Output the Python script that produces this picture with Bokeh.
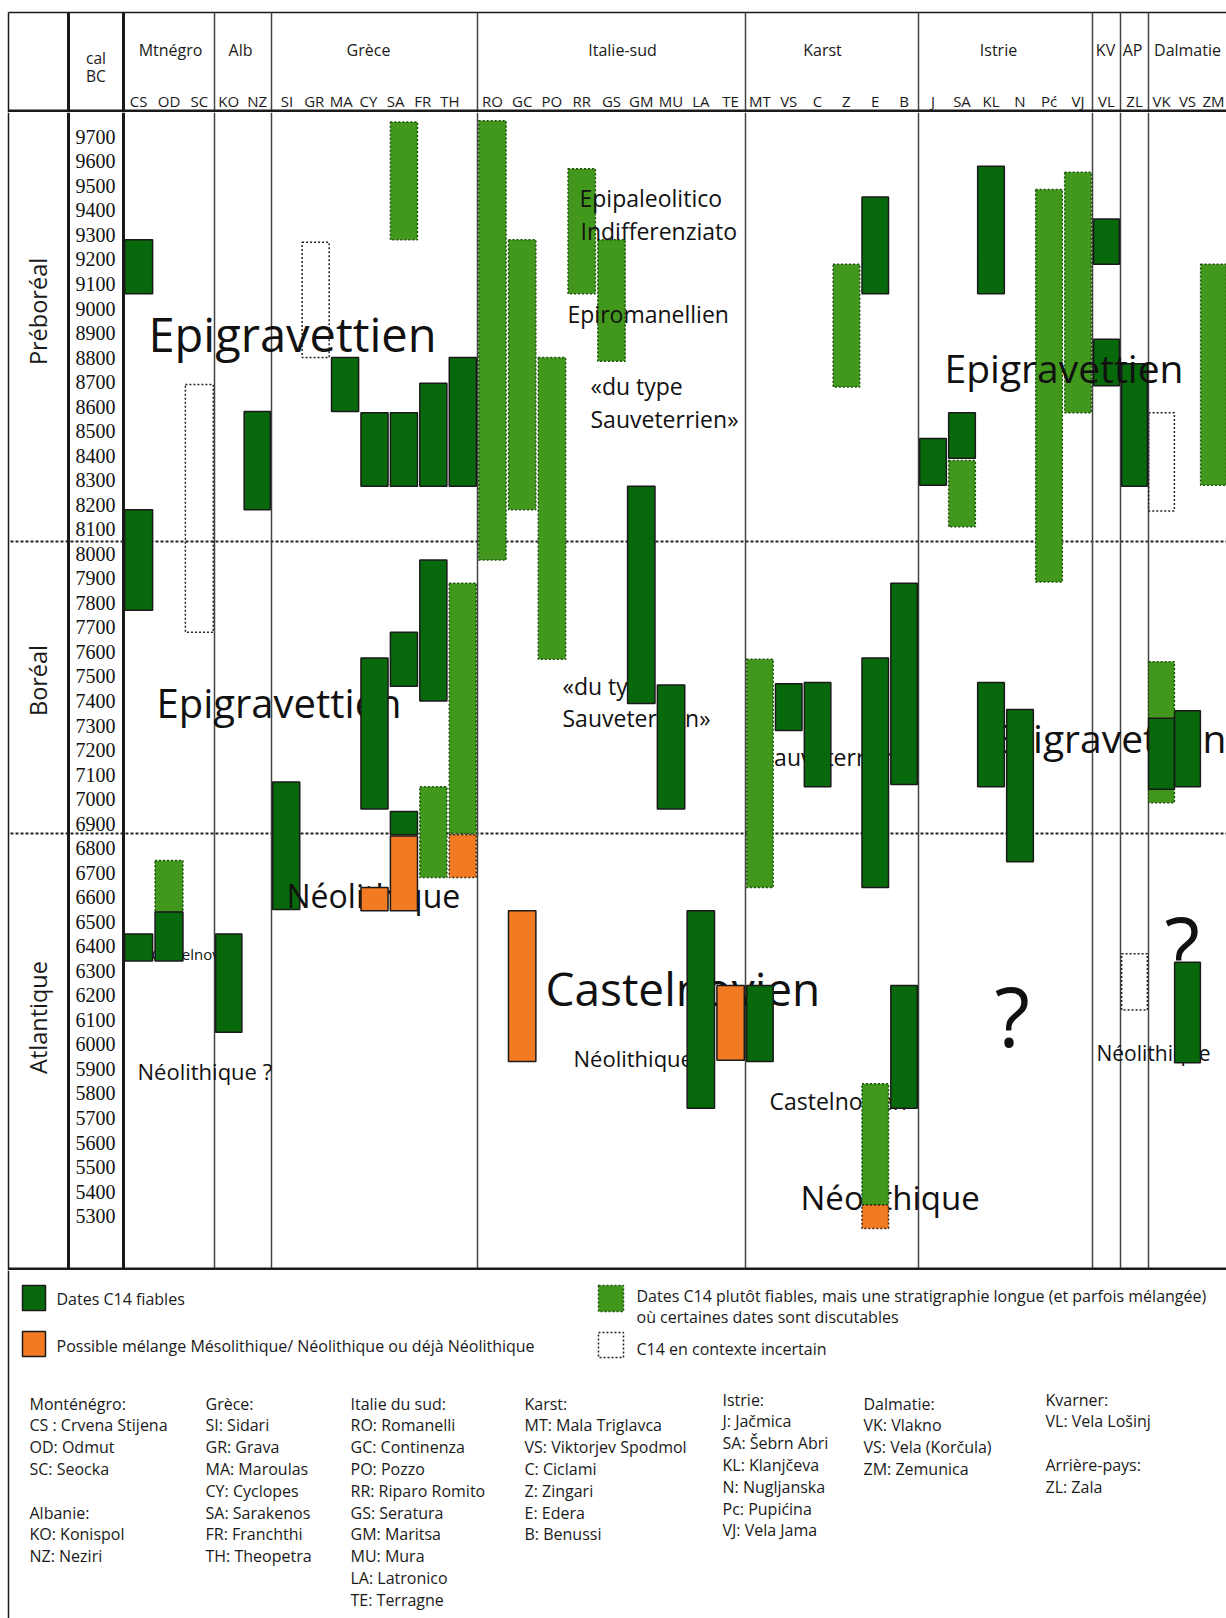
import math
from bokeh.plotting import figure
from bokeh.layouts import column
from bokeh.models import Range1d, LinearAxis, FixedTicker, ColumnDataSource
from bokeh.core.properties import value
from bokeh.embed import file_html
from bokeh.resources import INLINE

# ---------------------------------------------------------------- data
GROUPS = ["Mtnégro", "Alb", "Grèce", "Italie-sud", "Karst", "Istrie", "KV", "AP", "Dalmatie"]
SITES = [["CS", "OD", "SC"], ["KO", "NZ"], ["SI", "GR", "MA", "CY", "SA", "FR", "TH"],
         ["RO", "GC", "PO", "RR", "GS", "GM", "MU", "LA", "TE"], ["MT", "VS", "C", "Z", "E", "B"],
         ["J", "SA", "KL", "N", "Pć", "VJ"], ["VL"], ["ZL"], ["VK", "VS", "ZM"]]

YEAR_TICKS = [9700, 9600, 9500, 9400, 9300, 9200, 9100, 9000, 8900, 8800, 8700, 8600,
              8500, 8400, 8300, 8200, 8100, 8000, 7900, 7800, 7700, 7600, 7500, 7400,
              7300, 7200, 7100, 7000, 6900, 6800, 6700, 6600, 6500, 6400, 6300, 6200,
              6100, 6000, 5900, 5800, 5700, 5600, 5500, 5400, 5300]

PERIODS = ["Préboréal", "Boréal", "Atlantique"]
PERIOD_LIMITS = [8050, 6860]          # cal BC

# Dates C14 fiables
RELIABLE_SITE = ["Mtnégro:CS", "Mtnégro:CS", "Mtnégro:CS", "Mtnégro:OD", "Alb:NZ", "Alb:KO",
                 "Grèce:SI", "Grèce:MA", "Grèce:CY", "Grèce:CY", "Grèce:SA", "Grèce:SA", "Grèce:SA",
                 "Grèce:FR", "Grèce:FR", "Grèce:TH",
                 "Italie-sud:GM", "Italie-sud:MU", "Italie-sud:LA",
                 "Karst:MT", "Karst:VS", "Karst:C", "Karst:E", "Karst:E", "Karst:B", "Karst:B",
                 "Istrie:J", "Istrie:SA", "Istrie:KL", "Istrie:KL", "Istrie:N",
                 "KV:VL", "KV:VL", "AP:ZL", "Dalmatie:VK", "Dalmatie:VS", "Dalmatie:VS"]
RELIABLE_OLD = [9280, 8180, 6450, 6540, 8580, 6450,
                7070, 8800, 8575, 7575, 8575, 7680, 6950,
                8695, 7975, 8800,
                8275, 7465, 6545,
                6240, 7470, 7475, 9455, 7575, 7880, 6240,
                8470, 8575, 9580, 7475, 7365,
                9365, 8875, 8775, 7330, 7360, 6335]
RELIABLE_YOUNG = [9060, 7770, 6340, 6340, 8180, 6050,
                  6550, 8580, 8275, 6960, 8275, 7460, 6855,
                  8275, 7400, 8275,
                  7390, 6960, 5740,
                  5930, 7280, 7050, 9060, 6640, 7060, 5740,
                  8280, 8390, 9060, 7050, 6745,
                  9180, 8685, 8275, 7040, 7050, 5925]

# Dates C14 plutot fiables, stratigraphie longue
LONG_SITE = ["Mtnégro:OD", "Grèce:SA", "Grèce:FR", "Grèce:TH",
             "Italie-sud:RO", "Italie-sud:GC", "Italie-sud:PO", "Italie-sud:RR", "Italie-sud:GS",
             "Karst:MT", "Karst:Z", "Karst:E", "Istrie:SA", "Istrie:Pć", "Istrie:VJ",
             "Dalmatie:VK", "Dalmatie:ZM"]
LONG_OLD = [6750, 9760, 7050, 7880, 9765, 9280, 8800, 9570, 9280,
            7570, 9180, 5840, 8380, 9485, 9555, 7560, 9180]
LONG_YOUNG = [6540, 9280, 6680, 6860, 7975, 8180, 7570, 9060, 8785,
              6640, 8680, 5345, 8110, 7885, 8575, 6985, 8280]

# Possible melange Mesolithique / Neolithique
MIXED_SITE = ["Grèce:CY", "Grèce:SA", "Grèce:TH", "Italie-sud:GC", "Italie-sud:TE", "Karst:E"]
MIXED_OLD = [6640, 6850, 6855, 6545, 6240, 5345]
MIXED_YOUNG = [6545, 6545, 6680, 5930, 5935, 5250]
MIXED_IN_LONG_SEQUENCE = [False, False, True, False, False, True]

# C14 en contexte incertain
UNCERTAIN_SITE = ["Grèce:GR", "Mtnégro:SC", "Dalmatie:VK", "AP:ZL"]
UNCERTAIN_OLD = [9270, 8690, 8575, 6370]
UNCERTAIN_YOUNG = [8800, 7680, 8175, 6140]

LEGEND_TEXTS = ["Dates C14 fiables",
                "Possible mélange Mésolithique/ Néolithique ou déjà Néolithique",
                "Dates C14 plutôt fiables, mais une stratigraphie longue (et parfois mélangée)",
                "où certaines dates sont discutables",
                "C14 en contexte incertain"]

GLOSSARY = [
    ["Monténégro:", "CS : Crvena Stijena", "OD: Odmut", "SC: Seocka", "", "Albanie:", "KO: Konispol", "NZ: Neziri"],
    ["Grèce:", "SI: Sidari", "GR: Grava", "MA: Maroulas", "CY: Cyclopes", "SA: Sarakenos", "FR: Franchthi", "TH: Theopetra"],
    ["Italie du sud:", "RO: Romanelli", "GC: Continenza", "PO: Pozzo", "RR: Riparo Romito", "GS: Seratura",
     "GM: Maritsa", "MU: Mura", "LA: Latronico", "TE: Terragne"],
    ["Karst:", "MT: Mala Triglavca", "VS: Viktorjev Spodmol", "C: Ciclami", "Z: Zingari", "E: Edera", "B: Benussi"],
    ["Istrie:", "J: Jačmica", "SA: Šebrn Abri", "KL: Klanjčeva", "N: Nugljanska", "Pc: Pupićina", "VJ: Vela Jama"],
    ["Dalmatie:", "VK: Vlakno", "VS: Vela (Korčula)", "ZM: Zemunica"],
    ["Kvarner:", "VL: Vela Lošinj", "", "Arrière-pays:", "ZL: Zala"],
]

# ---------------------------------------------------------------- layout / style
DARK = "#08690c"
LIGHT = "#41981c"
ORANGE = "#f27a22"
INK = "#1a1a1a"
FONT = value("Open Sans")

PAGE_W = 1226
BORDER_X, BORDER_Y = 8, 12
GROUP_EDGES = [123, 214, 271, 477, 745, 918, 1092, 1120, 1148, 1226]
GROUP_LABEL_X = [170, 240, 368, 622, 822, 998, 1105, 1132, 1187]
LABEL_SPAN = {"Grèce": (273, 463)}      # site codes set tighter than the columns
CALBC_X, PERIOD_X = 68, 37

# linear mapping page-y <-> year in the chart panel
Y0_PX, PX_PER_YEAR = 136.3, 0.2453


def yr(py):
    return 9700 - (py - Y0_PX) / PX_PER_YEAR


site_x, site_w = {}, {}
for gi, (g, sites) in enumerate(zip(GROUPS, SITES)):
    l, r = GROUP_EDGES[gi], GROUP_EDGES[gi + 1]
    w = (r - l) / len(sites)
    for si, s in enumerate(sites):
        site_x[f"{g}:{s}"] = l + (si + 0.5) * w
        site_w[f"{g}:{s}"] = w


def bars(keys, old, young):
    return ColumnDataSource(dict(
        left=[site_x[k] - 0.46 * max(site_w[k], 28) for k in keys],
        right=[site_x[k] + 0.46 * max(site_w[k], 28) for k in keys],
        top=list(old), bottom=list(young)))


def base_fig(height, yrange):
    f = figure(width=PAGE_W, height=height, x_range=Range1d(0, PAGE_W), y_range=yrange,
               output_backend="svg", toolbar_location=None, x_axis_location=None,
               y_axis_location=None, min_border=0, outline_line_color=None,
               background_fill_color="white", border_fill_color="white")
    f.grid.visible = False
    return f


div = GROUP_EDGES[1:-1]

# ---------------------------------------------------------------- header
HDR_BOT = 112
hdr = base_fig(HDR_BOT, Range1d(HDR_BOT, 0))
hdr.segment(x0=[BORDER_X], y0=[BORDER_Y], x1=[PAGE_W], y1=[BORDER_Y], line_color=INK, line_width=1.5)
hdr.segment(x0=[BORDER_X], y0=[BORDER_Y], x1=[BORDER_X], y1=[HDR_BOT], line_color=INK, line_width=1.5)
hdr.segment(x0=[CALBC_X, GROUP_EDGES[0]], y0=[BORDER_Y] * 2, x1=[CALBC_X, GROUP_EDGES[0]],
            y1=[HDR_BOT] * 2, line_color=INK, line_width=3)
hdr.segment(x0=div, y0=[BORDER_Y] * len(div), x1=div, y1=[HDR_BOT] * len(div),
            line_color="#444444", line_width=1.5)
hdr.segment(x0=[BORDER_X], y0=[110.5], x1=[PAGE_W], y1=[110.5], line_color=INK, line_width=3)

hdr.text(x=GROUP_LABEL_X, y=[49] * len(GROUPS), text=GROUPS, text_align="center", text_baseline="middle",
         text_font=FONT, text_font_size="16px", text_color=INK)
hdr.text(x=[(CALBC_X + GROUP_EDGES[0]) / 2] * 2, y=[57, 75], text=["cal", "BC"], text_align="center",
         text_baseline="middle", text_font=FONT, text_font_size="15.5px", text_color=INK)

sx, st = [], []
for g, sites in zip(GROUPS, SITES):
    if g in LABEL_SPAN:
        a, b = LABEL_SPAN[g]
        step = (b - a) / len(sites)
        xs_g = [a + (i + 0.5) * step for i in range(len(sites))]
    else:
        xs_g = [site_x[f"{g}:{s}"] for s in sites]
    sx += xs_g
    st += sites
hdr.text(x=sx, y=[100] * len(sx), text=st, text_align="center", text_baseline="middle",
         text_font=FONT, text_font_size="15px", text_color=INK)

# ---------------------------------------------------------------- main chart
MAIN_TOP, MAIN_BOT = 112, 1270
p = base_fig(MAIN_BOT - MAIN_TOP, Range1d(yr(MAIN_BOT), yr(MAIN_TOP)))
ytop, ybot = yr(MAIN_TOP), yr(MAIN_BOT)

# period boundaries
p.segment(x0=[BORDER_X + 2] * 2, y0=PERIOD_LIMITS, x1=[PAGE_W] * 2, y1=PERIOD_LIMITS,
          line_color="#222222", line_width=2, line_dash="3 2")
# column rules
p.segment(x0=[BORDER_X], y0=[ytop], x1=[BORDER_X], y1=[ybot], line_color=INK, line_width=1.5)
p.segment(x0=[CALBC_X, GROUP_EDGES[0]], y0=[ytop] * 2, x1=[CALBC_X, GROUP_EDGES[0]], y1=[ybot] * 2,
          line_color=INK, line_width=3)
p.segment(x0=div, y0=[ytop] * len(div), x1=div, y1=[ybot] * len(div), line_color="#444444", line_width=1.5)
p.segment(x0=[BORDER_X], y0=[yr(1268.5)], x1=[PAGE_W], y1=[yr(1268.5)], line_color=INK, line_width=3)

# period names
PERIOD_ANCHOR = [yr(311), yr(680), yr(1017)]
p.text(x=[PERIOD_X] * 3, y=PERIOD_ANCHOR, text=PERIODS, angle=math.pi / 2, text_align="center",
       text_baseline="middle", text_font=FONT, text_font_size="23.5px", text_color=INK)

# year axis inside the "cal BC" column
yax = LinearAxis(ticker=FixedTicker(ticks=YEAR_TICKS), fixed_location=117, axis_line_color=None,
                 major_tick_line_color=None, minor_tick_line_color=None, major_tick_in=0,
                 major_tick_out=0, major_label_standoff=2, major_label_text_font="Liberation Sans Narrow",
                 major_label_text_font_size="20px", major_label_text_color="#111111")
p.add_layout(yax, "left")

# cultural annotations: (text, left px, baseline px, size, layer)
# layer 0: under all bars, 1: over green bars but under orange ones, 2: over everything
ANNOT = [
    ("Epigravettien", 148, 333, 47, 0),
    ("Epipaleolitico", 579, 197, 23, 2),
    ("Indifferenziato", 580, 230, 23, 2),
    ("Epiromanellien", 567, 313, 23, 2),
    ("«du type", 590, 385, 23, 0),
    ("Sauveterrien»", 590, 418, 23, 0),
    ("Epigravettien", 944, 367, 39, 2),
    ("Epigravettien", 156, 702, 40, 0),
    ("«du type", 562, 685, 23, 0),
    ("Sauveterrien»", 562, 717, 23, 0),
    ("Sauveterrien", 761, 756, 23, 0),
    ("Epigravettien", 987, 737, 39, 0),
    ("Néolithique", 286, 895, 32, 1),
    ("Castelnovien", 151, 953, 15, 0),
    ("Néolithique ?", 137, 1070, 22, 0),
    ("Castelnovien", 545, 987, 46, 0),
    ("Néolithique", 573, 1057, 22, 0),
    ("Castelnovien", 769, 1100, 23, 0),
    ("Néolithique", 800, 1197, 33, 0),
    ("?", 994, 1014, 82, 0),
    ("?", 1164, 944, 82, 0),
    ("Néolithique", 1096, 1052, 21, 0),
]


def draw_annot(layer):
    for t, x, y, s, lyr in ANNOT:
        if lyr == layer:
            p.text(x=[x], y=[yr(y)], text=[t], text_align="left", text_baseline="alphabetic",
                   text_font=FONT, text_font_size=f"{s}px", text_color="#111111")


draw_annot(0)

p.quad(source=bars(LONG_SITE, LONG_OLD, LONG_YOUNG), left="left", right="right", top="top",
       bottom="bottom", fill_color=LIGHT, line_color="#1d4f0c", line_width=1.5, line_dash="2 2")
p.quad(source=bars(RELIABLE_SITE, RELIABLE_OLD, RELIABLE_YOUNG), left="left", right="right",
       top="top", bottom="bottom", fill_color=DARK, line_color=INK, line_width=1.5)

draw_annot(1)

solid = [i for i, f in enumerate(MIXED_IN_LONG_SEQUENCE) if not f]
dash = [i for i, f in enumerate(MIXED_IN_LONG_SEQUENCE) if f]
p.quad(source=bars([MIXED_SITE[i] for i in solid], [MIXED_OLD[i] for i in solid],
                   [MIXED_YOUNG[i] for i in solid]),
       left="left", right="right", top="top", bottom="bottom", fill_color=ORANGE,
       line_color=INK, line_width=1.5)
p.quad(source=bars([MIXED_SITE[i] for i in dash], [MIXED_OLD[i] for i in dash],
                   [MIXED_YOUNG[i] for i in dash]),
       left="left", right="right", top="top", bottom="bottom", fill_color=ORANGE,
       line_color="#3a2a10", line_width=1.5, line_dash="2 2")
p.quad(source=bars(UNCERTAIN_SITE, UNCERTAIN_OLD, UNCERTAIN_YOUNG), left="left", right="right",
       top="top", bottom="bottom", fill_color=None, line_color="#222222", line_width=1.5,
       line_dash="2 2")

draw_annot(2)

# ---------------------------------------------------------------- legend / glossary
LEG_TOP, LEG_BOT = 1270, 1618
lg = base_fig(LEG_BOT - LEG_TOP, Range1d(LEG_BOT, LEG_TOP))
lg.segment(x0=[BORDER_X], y0=[LEG_TOP], x1=[BORDER_X], y1=[LEG_BOT], line_color=INK, line_width=1.5)

lg.quad(left=[22], right=[45], top=[1285], bottom=[1310], fill_color=DARK, line_color=INK, line_width=1.5)
lg.quad(left=[22], right=[45], top=[1331], bottom=[1356], fill_color=ORANGE, line_color=INK, line_width=1.5)
lg.quad(left=[598], right=[623], top=[1285], bottom=[1311], fill_color=LIGHT, line_color="#1d4f0c",
        line_width=1.5, line_dash="2 2")
lg.quad(left=[598], right=[623], top=[1332], bottom=[1357], fill_color=None, line_color="#222222",
        line_width=1.5, line_dash="2 2")
lg.text(x=[56, 56, 636, 636, 636], y=[1298, 1345, 1295, 1316, 1348], text=LEGEND_TEXTS,
        text_align="left", text_baseline="middle", text_font=FONT, text_font_size="16px",
        text_color=INK)

GLOSS_X = [29, 205, 350, 524, 722, 863, 1045]
GLOSS_Y0 = [1403, 1403, 1403, 1403, 1399, 1403, 1399]
GLOSS_STEP = 21.8
xs, ys, ts = [], [], []
for col, x0, y0 in zip(GLOSSARY, GLOSS_X, GLOSS_Y0):
    for i, line in enumerate(col):
        if line:
            xs.append(x0)
            ys.append(y0 + i * GLOSS_STEP)
            ts.append(line)
lg.text(x=xs, y=ys, text=ts, text_align="left", text_baseline="middle", text_font=FONT,
        text_font_size="16px", text_color=INK)

layout = column(hdr, p, lg, spacing=0)
open("out.html", "w").write(file_html(layout, INLINE))
